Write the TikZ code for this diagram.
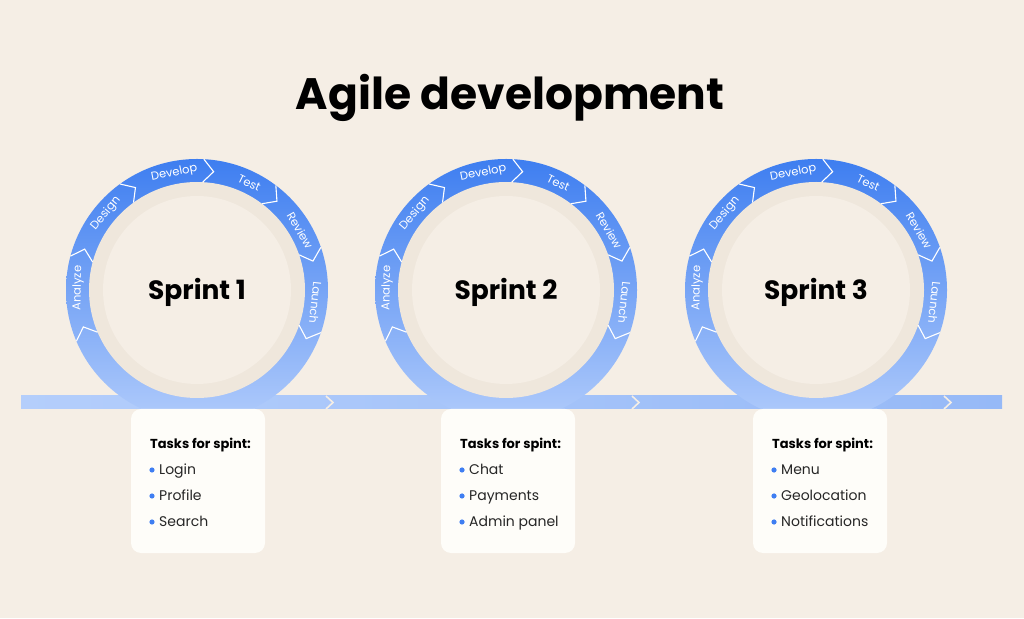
\documentclass[tikz,border=0pt]{standalone}
\usepackage{fontspec}
\setmainfont{Poppins}
\usetikzlibrary{positioning}

\definecolor{bgbeige}{HTML}{F5EEE5}
\definecolor{shadebeige}{HTML}{EFE7DC}
\definecolor{ringdark}{HTML}{3E7EF0}
\definecolor{ringmid}{HTML}{5C93F2}
\definecolor{ringlight}{HTML}{B0CBFB}
\definecolor{bandleft}{HTML}{B4CEFB}
\definecolor{bandright}{HTML}{96B9F7}
\definecolor{cardwhite}{HTML}{FEFDF9}
\definecolor{dotblue}{HTML}{3F7EF2}

\begin{document}
\begin{tikzpicture}[x=1pt,y=1pt,
phase/.style={text=white,font=\fontsize{11.5}{13}\selectfont,inner sep=0pt},
sepline/.style={white,line width=1.1pt,line join=miter},
bandsep/.style={bgbeige,line width=1.6pt,line join=miter},
sprintlabel/.style={font=\fontsize{26.5}{30}\selectfont\bfseries,anchor=base},
tasktitle/.style={font=\fontsize{13}{15}\selectfont\bfseries,anchor=base west,inner sep=0pt},
taskitem/.style={font=\fontsize{14}{16}\selectfont,text=black!85,anchor=base west,inner sep=0pt},
]
    \useasboundingbox[fill=bgbeige] (0,0) rectangle (1024,618);

    % Title
    \node[font=\fontsize{44}{52}\selectfont\bfseries,anchor=base] (title) at (510,508) {Agile development};

    % Timeline band
    \shade[left color=bandleft,right color=bandright] (21,209) rectangle (1002,222);
    \foreach \bx in {326,632,944}
        \draw[bandsep] (\bx,222) -- (\bx+7,215.5) -- (\bx,209);

    % Sprint loops and task cards
    \foreach \cx/\kx/\num/\ta/\tb/\tc in {197/131/1/Login/Profile/Search,
        506/441/2/Chat/Payments/Admin panel,
        816/753/3/Menu/Geolocation/Notifications}{
        \begin{scope}
            \clip (\cx-140,209) rectangle (\cx+140,470);
            \shade[top color=ringdark,middle color=ringmid,bottom color=ringlight] (\cx,328) circle (131);
        \end{scope}
        \fill[shadebeige] (\cx,328) circle (108);
        \fill[bgbeige] (\cx,328) circle (94);
        \begin{scope}[shift={(\cx,328)}]
            \foreach \a in {198,160,121,82,48,14,-24}
                \draw[sepline] (\a+5:108) -- (\a:119.5) -- (\a+5:131);
            \foreach \lab/\ang in {Analyze/179,Design/140,Develop/101,Test/64,Review/30,Launch/-6}
                \node[phase,rotate=\ang-90] (\lab\num) at (\ang:119) {\lab};
        \end{scope}
        \node[sprintlabel] (sprint\num) at (\cx,318) {Sprint \num};

        % card
        \fill[cardwhite,rounded corners=10] (\kx,209) -- (\kx,65) -- (\kx+134,65) -- (\kx+134,209) -- cycle;
        \node[tasktitle] (tasks\num) at (\kx+19,169.5) {Tasks for spint:};
        \foreach \t/\ty in {\ta/143.5,\tb/117.5,\tc/91.5}{
            \fill[dotblue] (\kx+21,\ty+4.5) circle (2.6);
            \node[taskitem] at (\kx+28,\ty) {\t};
        }
    }
\end{tikzpicture}
\end{document}
